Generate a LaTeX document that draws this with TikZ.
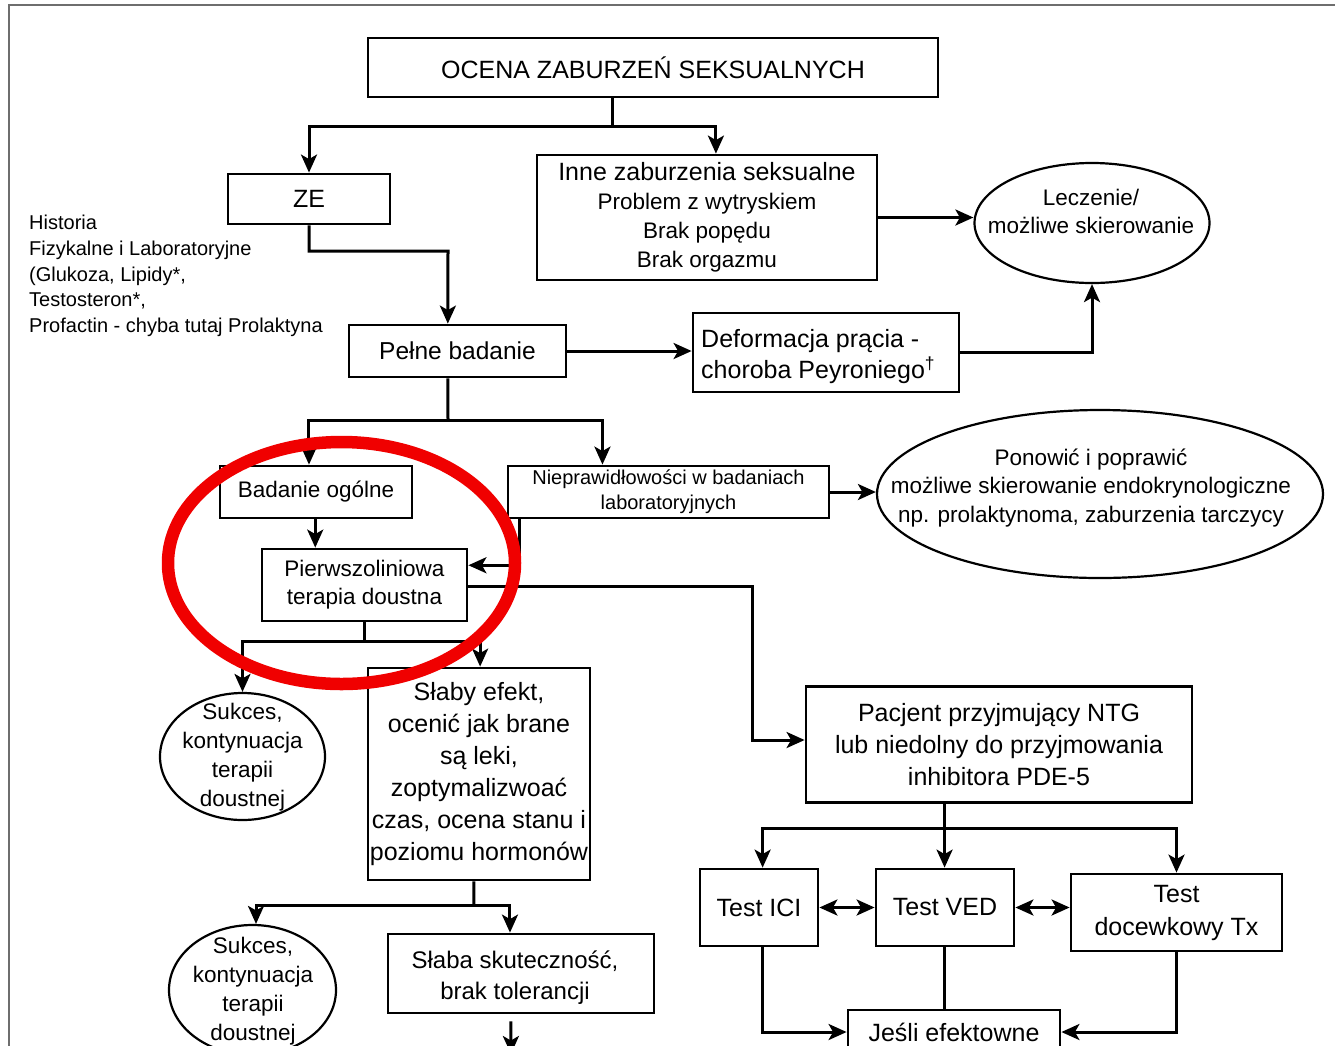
\documentclass[tikz,border=0pt]{standalone}
\usepackage{fontspec}
\setmainfont{Liberation Sans}
\usetikzlibrary{calc,arrows.meta,shapes.geometric}
\newcommand\myfs[2]{\fontsize{#1}{#2}\selectfont}
\definecolor{redmark}{RGB}{240,0,0}
\definecolor{framegray}{RGB}{110,110,110}
\begin{document}
\begin{tikzpicture}[x=1pt,y=-1pt,
  box/.style={draw, line width=2.8pt, inner sep=0pt, align=center},
  oval/.style={draw, ellipse, line width=2.2pt, inner sep=0pt},
  txt/.style={inner sep=0pt, align=center},
  conn/.style={line width=3pt},
  arr/.style={conn, -{Stealth[length=18pt,width=16pt,inset=4.5pt]}},
  dbl/.style={conn, {Stealth[length=18pt,width=16pt,inset=4.5pt]}-{Stealth[length=18pt,width=16pt,inset=4.5pt]}}]
\useasboundingbox (0,0) rectangle (1335,1045);
\clip (0,0) rectangle (1335,1045);
\fill[white] (0,0) rectangle (1335,1045);
% frame
\draw[framegray, line width=2.5pt] (9,1060) -- (9,5) -- (1345,5);

% nodes
\node[box, minimum width=570, minimum height=59, font=\myfs{25}{30}] (ocena) at (653,67.5) {OCENA ZABURZEŃ SEKSUALNYCH};
\node[box, minimum width=162, minimum height=50, font=\myfs{25}{30}] (ze) at (309,199) {ZE};
\node[txt, anchor=west, align=left, font=\myfs{20}{25.7}] (hist) at (29,276) {Historia\\Fizykalne i Laboratoryjne\\(Glukoza, Lipidy*,\\Testosteron*,\\Profactin - chyba tutaj Prolaktyna};
\node[box, minimum width=340, minimum height=125, font=\myfs{22.5}{29}] (inne) at (707,217.5)
  {{\myfs{25}{29}Inne zaburzenia seksualne}\\Problem z wytryskiem\\Brak popędu\\Brak orgazmu};
\node[oval, minimum width=235, minimum height=120] (lecz) at (1092,223) {};
\node[txt, font=\myfs{22.5}{28}] (leczT) at (1091,211) {Leczenie/\\możliwe skierowanie};
\node[box, minimum width=217, minimum height=52, font=\myfs{24.5}{30}] (pelne) at (457.5,351) {Pełne badanie};
\node[box, minimum width=266, minimum height=79] (deform) at (826,352.5) {};
\node[txt, anchor=west, align=left, font=\myfs{25}{31}] (deformT) at (701,356.5)
  {Deformacja prącia -\\choroba Peyroniego\textsuperscript{†}};
\node[box, minimum width=192, minimum height=52, font=\myfs{22.5}{28}] (badanie) at (316,492) {Badanie ogólne};
\node[box, minimum width=321, minimum height=52, font=\myfs{20}{25}] (niepr) at (668.5,492) {Nieprawidłowości w badaniach\\laboratoryjnych};
\node[oval, minimum width=446, minimum height=168] (ponow) at (1100,494) {};
\node[txt, font=\myfs{22.5}{28.5}] (ponowT) at (1091,488) {Ponowić i poprawić\\możliwe skierowanie endokrynologiczne\\np. prolaktynoma, zaburzenia tarczycy};
\node[box, minimum width=205, minimum height=72, font=\myfs{22.5}{28}] (pierw) at (364.5,585) {Pierwszoliniowa\\terapia doustna};
\node[oval, minimum width=165, minimum height=127] (suk1) at (242.5,756.5) {};
\node[txt, font=\myfs{22.5}{29}] (suk1T) at (242.5,757) {Sukces,\\kontynuacja\\terapii\\doustnej};
\node[box, minimum width=222, minimum height=212, font=\myfs{25}{32}] (slaby) at (479,774)
  {Słaby efekt,\\ocenić jak brane\\są leki,\\zoptymalizwoać\\czas, ocena stanu i\\poziomu hormonów};
\node[box, minimum width=386, minimum height=116, font=\myfs{25}{32}] (pacj) at (999,744.5)
  {Pacjent przyjmujący NTG\\lub niedolny do przyjmowania\\inhibitora PDE-5};
\node[box, minimum width=118, minimum height=77, font=\myfs{25}{30}] (ici) at (759,907.5) {Test ICI};
\node[box, minimum width=138, minimum height=77, font=\myfs{25}{30}] (ved) at (945,907.5) {Test VED};
\node[box, minimum width=211, minimum height=77, font=\myfs{25}{33}] (docew) at (1176.5,912.5) {Test\\docewkowy Tx};
\node[box, minimum width=212, minimum height=44, font=\myfs{25}{30}] (jesli) at (954,1032) {Jeśli efektowne};
\node[oval, minimum width=167, minimum height=130] (suk2) at (252.5,990) {};
\node[txt, font=\myfs{22.5}{29}] (suk2T) at (253,991) {Sukces,\\kontynuacja\\terapii\\doustnej};
\node[box, minimum width=266, minimum height=79] (slaba) at (521,973.5) {};
\node[txt, font=\myfs{24}{31}] (slabaT) at (515,978) {Słaba skuteczność,\\brak tolerancji};
\coordinate (tail) at (511,1054);

% junctions and anchor points
\coordinate (oS) at ($(ocena.south west)!0.43!(ocena.south east)$);
\coordinate (j1) at (613,126);
\coordinate (inN) at ($(inne.north west)!0.526!(inne.north east)$);
\coordinate (peN) at ($(pelne.north west)!0.456!(pelne.north east)$);
\coordinate (peS) at ($(pelne.south west)!0.456!(pelne.south east)$);
\coordinate (j2) at (448,251);
\coordinate (j3) at (448,420);
\coordinate (baN) at ($(badanie.north west)!0.464!(badanie.north east)$);
\coordinate (niN) at ($(niepr.north west)!0.296!(niepr.north east)$);
\coordinate (niS) at ($(niepr.south west)!0.04!(niepr.south east)$);
\coordinate (piN) at ($(pierw.north west)!0.263!(pierw.north east)$);
\coordinate (piE1) at ($(pierw.north east)!0.236!(pierw.south east)$);
\coordinate (piE2) at ($(pierw.north east)!0.514!(pierw.south east)$);
\coordinate (tA) at (752,0);
\coordinate (j4) at (364.5,641);
\coordinate (slN) at ($(slaby.north west)!0.505!(slaby.north east)$);
\coordinate (slS) at ($(slaby.south west)!0.477!(slaby.south east)$);
\coordinate (j5) at (474,905);
\coordinate (sbN) at ($(slaba.north west)!0.459!(slaba.north east)$);
\coordinate (sbS) at ($(slaba.south west)!0.462!(slaba.south east)$);
\coordinate (paS) at ($(pacj.south west)!0.36!(pacj.south east)$);
\coordinate (j6) at (paS |- 0,828);
\coordinate (icN) at ($(ici.north west)!0.53!(ici.north east)$);
\coordinate (veS) at (j6 |- ved.south);

% connectors
\draw[conn] (oS) -- (oS |- j1);
\draw[arr] (oS |- j1) -| (ze.north);
\draw[arr] (oS |- j1) -| (inN);
\draw[arr] (ze.south) |- (j2) -- (peN);
\draw[arr] (inne.east) -- (inne.east -| lecz.west);
\draw[arr] (pelne.east) -- (pelne.east -| deform.west);
\draw[arr] (deform.east) -| (lecz.south);
\draw[conn] (peS) -- (j3);
\draw[arr] (j3) -| (baN);
\draw[arr] (j3) -| (niN);
\draw[arr] (niepr.east) -- (niepr.east -| ponow.west);
\draw[arr] (badanie.south -| piN) -- (piN);
\draw[arr] (niS) |- (piE1);
\draw[arr] (piE2) -| (tA |- 0,740) -- (pacj.west |- 0,740);
\draw[conn] (pierw.south) -- (j4);
\draw[arr] (j4) -| (suk1.north);
\draw[arr] (j4) -| (slN);
\draw[conn] (slS) -- (j5);
\draw[arr] (j5) -| (suk2.north -| 256,0);
\draw[arr] (j5) -| (sbN);
\draw[arr, shorten <=7pt] (sbS) -- (tail);
\draw[conn] (paS) -- (j6);
\draw[arr] (j6) -| (icN);
\draw[arr] (j6) -- (j6 |- ved.north);
\draw[arr] (j6) -| (docew.north);
\draw[dbl] (ici.east) -- (ici.east -| ved.west);
\draw[dbl] (ved.east) -- (ved.east -| docew.west);
\draw[arr] (ici.south -| icN) |- (jesli.west);
\draw[conn] (veS) -- (veS |- jesli.north);
\draw[arr] (docew.south) |- (jesli.east);

% red highlight
\draw[redmark, line width=12.5pt] (341.5,563) ellipse [x radius=173.5, y radius=121];
\end{tikzpicture}
\end{document}
